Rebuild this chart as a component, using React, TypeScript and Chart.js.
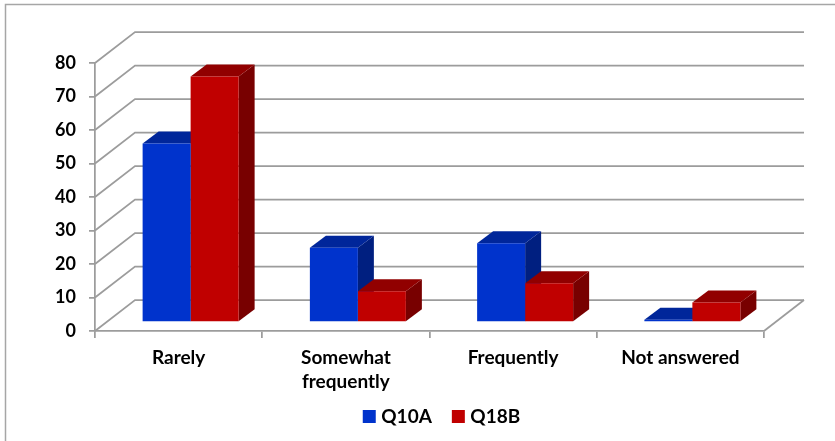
import React, { useEffect, useRef } from "react";
import { Chart, registerables } from "chart.js";

Chart.register(...registerables);

const categories: (string | string[])[] = ["Rarely", ["Somewhat", "frequently"], "Frequently", "Not answered"];
const q10a = [53.3, 22.2, 23.5, 0.7];
const q18b = [73.3, 9.2, 11.6, 5.8];
const seriesNames = ["Q10A", "Q18B"];
const fronts = ["#0033cc", "#c00000"];
const tops = ["#00269a", "#910000"];
const sides = ["#001f80", "#780000"];
const gridColor = "#9c9c9c";

const WALL_DX = 40;
const WALL_DY = -31;
const BAR_DX = 12;
const BAR_DY = -9;
const DEPTH_DX = 16;
const DEPTH_DY = -12;

const labelFont = { family: "Lato, Carlito, sans-serif", weight: "bold" as const, size: 19, lineHeight: 1.25 };
const tickFont = { family: "Lato, Carlito, sans-serif", weight: "bold" as const, size: 18 };

const scene3d = {
  id: "scene3d",
  afterLayout(chart: any) {
    // let the two-line category label run past the axis box, over the legend's empty top padding
    chart.scales.x.bottom += 25;
  },
  beforeDraw(chart: any) {
    const { ctx, width, height } = chart;
    ctx.save();
    ctx.fillStyle = "#ffffff";
    ctx.fillRect(0, 0, width, height);
    ctx.strokeStyle = "#a6a6a6";
    ctx.lineWidth = 1.5;
    ctx.beginPath();
    ctx.moveTo(5.5, height);
    ctx.lineTo(5.5, 4.5);
    ctx.lineTo(width, 4.5);
    ctx.stroke();
    ctx.restore();
  },
  beforeDatasetsDraw(chart: any) {
    const { ctx, chartArea } = chart;
    const yScale = chart.scales.y;
    ctx.save();
    ctx.strokeStyle = gridColor;
    ctx.lineWidth = 1.75;
    yScale.ticks.forEach((t: any) => {
      const py = yScale.getPixelForValue(t.value);
      ctx.beginPath();
      ctx.moveTo(chartArea.left, py);
      ctx.lineTo(chartArea.left + WALL_DX, py + WALL_DY);
      ctx.lineTo(chartArea.right + WALL_DX, py + WALL_DY);
      ctx.stroke();
    });
    const py0 = yScale.getPixelForValue(0);
    ctx.beginPath();
    ctx.moveTo(chartArea.right, py0);
    ctx.lineTo(chartArea.right + WALL_DX, py0 + WALL_DY);
    ctx.stroke();

    chart.data.labels.forEach((_: any, i: number) => {
      chart.data.datasets.forEach((_d: any, di: number) => {
        const bar = chart.getDatasetMeta(di).data[i];
        const half = bar.width / 2;
        const l = bar.x - half + BAR_DX;
        const r = bar.x + half + BAR_DX;
        const t = bar.y + BAR_DY;
        const b = bar.base + BAR_DY;
        ctx.fillStyle = sides[di];
        ctx.beginPath();
        ctx.moveTo(r, t);
        ctx.lineTo(r + DEPTH_DX, t + DEPTH_DY);
        ctx.lineTo(r + DEPTH_DX, b + DEPTH_DY);
        ctx.lineTo(r, b);
        ctx.closePath();
        ctx.fill();
        ctx.fillStyle = tops[di];
        ctx.beginPath();
        ctx.moveTo(l, t);
        ctx.lineTo(l + DEPTH_DX, t + DEPTH_DY);
        ctx.lineTo(r + DEPTH_DX, t + DEPTH_DY);
        ctx.lineTo(r, t);
        ctx.closePath();
        ctx.fill();
      });
    });
    ctx.restore();
    ctx.save();
    ctx.translate(BAR_DX, BAR_DY);
  },
  afterDatasetsDraw(chart: any) {
    chart.ctx.restore();
  },
};

export default function App() {
  const ref = useRef<HTMLCanvasElement>(null);
  useEffect(() => {
    const chart = new Chart(ref.current!, {
      type: "bar",
      data: {
        labels: categories as any,
        datasets: [
          { label: seriesNames[0], data: q10a, backgroundColor: fronts[0], clip: false as any },
          { label: seriesNames[1], data: q18b, backgroundColor: fronts[1], clip: false as any },
        ],
      },
      options: {
        animation: false,
        responsive: false,
        layout: { padding: { top: 63, left: 52, right: 0, bottom: 5 } },
        datasets: { bar: { categoryPercentage: 0.574, barPercentage: 1 } },
        plugins: {
          tooltip: { enabled: false },
          title: { display: false },
          legend: {
            position: "bottom",
            labels: {
              font: labelFont,
              color: "#000000",
              usePointStyle: true,
              pointStyle: "rect",
              boxWidth: 5,
              boxHeight: 13,
              padding: 24,
            },
          },
        },
        scales: {
          x: {
            grid: { drawOnChartArea: false, drawTicks: true, tickLength: 7, color: gridColor, lineWidth: 1.75 },
            border: { color: gridColor, width: 1.75 },
            ticks: { font: labelFont, color: "#000000", padding: 8, maxRotation: 0, autoSkip: false },
            afterFit(s: any) { s.height = 52; },
          },
          y: {
            min: 0,
            max: 80,
            grid: { drawOnChartArea: false, drawTicks: true, tickLength: 6, color: gridColor, lineWidth: 1.75 },
            border: { color: gridColor, width: 1.75 },
            ticks: { font: tickFont, color: "#000000", stepSize: 10, padding: 13 },
            afterFit(s: any) { s.width = 43; },
          },
          y2: {
            position: "right",
            display: true,
            grid: { display: false },
            border: { display: false },
            ticks: { display: false },
            afterFit(s: any) { s.width = 71; },
          },
        },
      },
      plugins: [scene3d],
    });
    return () => chart.destroy();
  }, []);
  return (
    <canvas
      ref={ref}
      width={835}
      height={441}
      style={{ position: "absolute", left: 0, top: 0, width: 835, height: 441, display: "block" }}
    />
  );
}
